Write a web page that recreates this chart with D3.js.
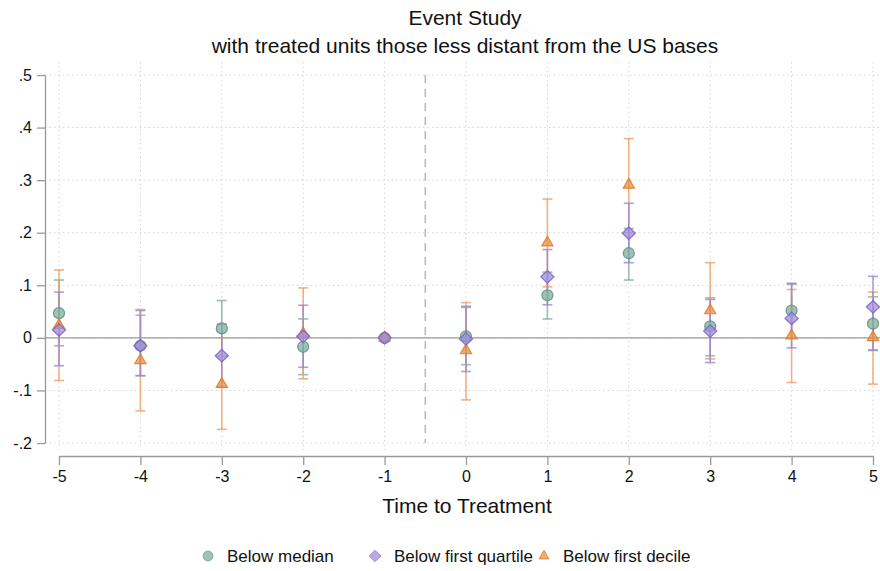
<!DOCTYPE html>
<html><head><meta charset="utf-8">
<script src="https://cdn.jsdelivr.net/npm/d3@7"></script>
<style>body{margin:0;background:#fff;font-family:"Liberation Sans",Arial,sans-serif;}</style>
</head><body><svg id="c" width="880" height="571"></svg>
<script>
const periods = [-5,-4,-3,-2,-1,0,1,2,3,4,5];
const xTickLabels = ["-5","-4","-3","-2","-1","0","1","2","3","4","5"];
const seriesNames = ["Below median","Below first quartile","Below first decile"];
const medianEst = [0.047,-0.015,0.018,-0.017,0,0.003,0.081,0.161,0.022,0.052,0.027];
const medianLo  = [-0.015,-0.072,-0.035,-0.070,0,-0.051,0.036,0.110,-0.034,0.000,-0.024];
const medianHi  = [0.110,0.043,0.071,0.036,0,0.058,0.125,0.208,0.076,0.104,0.078];
const quartEst = [0.015,-0.015,-0.034,0.003,0,-0.002,0.116,0.199,0.013,0.037,0.059];
const quartLo  = [-0.053,-0.072,-0.094,-0.056,0,-0.064,0.063,0.143,-0.047,-0.019,-0.023];
const quartHi  = [0.087,0.052,0.026,0.062,0,0.060,0.168,0.256,0.073,0.102,0.117];
const decEst = [0.024,-0.043,-0.088,0.008,0,-0.024,0.181,0.291,0.052,0.004,0.001];
const decLo  = [-0.081,-0.139,-0.174,-0.078,0,-0.118,0.097,0.200,-0.040,-0.085,-0.088];
const decHi  = [0.129,0.054,0.000,0.095,0,0.067,0.264,0.379,0.143,0.092,0.087];
const yTicks = [-0.2,-0.1,0,0.1,0.2,0.3,0.4,0.5];
const yTickLabels = ["-.2","-.1","0",".1",".2",".3",".4",".5"];

const svg = d3.select("#c");
const FONT = "Liberation Sans, Arial, sans-serif";
const x = d3.scaleLinear().domain([-5,5]).range([59,873]);
const y = d3.scaleLinear().domain([-0.2,0.5]).range([443,75]);
const plotL = 45, plotR = 880, plotT = 62, plotB = 450;

// grid
svg.append("g").selectAll("line").data(yTicks).join("line")
  .attr("x1",plotL).attr("x2",plotR).attr("y1",d=>y(d)).attr("y2",d=>y(d))
  .attr("stroke","#d4d4d4").attr("stroke-width",1).attr("stroke-dasharray","1.5,3");
svg.append("g").selectAll("line").data(periods).join("line")
  .attr("x1",d=>x(d)).attr("x2",d=>x(d)).attr("y1",plotT).attr("y2",plotB)
  .attr("stroke","#d4d4d4").attr("stroke-width",1).attr("stroke-dasharray","1.5,3");

// zero line
svg.append("line").attr("x1",plotL).attr("x2",plotR).attr("y1",y(0)).attr("y2",y(0))
  .attr("stroke","#9a9a9a").attr("stroke-width",1.2);
// treatment dashed line
svg.append("line").attr("x1",x(-0.5)).attr("x2",x(-0.5)).attr("y1",y(0.5)).attr("y2",y(-0.2))
  .attr("stroke","#b8b8b8").attr("stroke-width",1.5).attr("stroke-dasharray","8,6");

// y axis
const yAxis = d3.axisLeft(y).tickValues(yTicks).tickFormat((d,i)=>yTickLabels[i]).tickSize(8).tickSizeOuter(0).tickPadding(5);
const ga = svg.append("g").attr("transform",`translate(${plotL},0)`).call(yAxis);
ga.select(".domain").attr("stroke","#999").attr("stroke-width",1.3);
ga.selectAll(".tick line").attr("stroke","#999").attr("stroke-width",1.3);
ga.selectAll("text").attr("font-size",16).attr("fill","#111").attr("font-family",FONT);

// x axis
const xAxis = d3.axisBottom(x).tickValues(periods).tickFormat((d,i)=>xTickLabels[i]).tickSize(9).tickSizeOuter(0).tickPadding(6);
const gx = svg.append("g").attr("transform",`translate(0,456)`).call(xAxis);
gx.select(".domain").attr("stroke","#999").attr("stroke-width",1.3);
gx.selectAll(".tick line").attr("stroke","#999").attr("stroke-width",1.3);
gx.selectAll("text").attr("font-size",16).attr("fill","#111").attr("font-family",FONT);

// axis title
svg.append("text").attr("x",467).attr("y",513).attr("text-anchor","middle")
  .attr("font-size",21).attr("fill","#111").text("Time to Treatment");

// titles
svg.append("text").attr("x",465).attr("y",25).attr("text-anchor","middle").attr("font-size",21).attr("fill","#111").text("Event Study");
svg.append("text").attr("x",465).attr("y",53).attr("text-anchor","middle").attr("font-size",21).attr("fill","#111").text("with treated units those less distant from the US bases");

const diamond = {draw(ctx,size){const h=Math.sqrt(size/2);ctx.moveTo(0,-h*1.05);ctx.lineTo(h*1.1,0);ctx.lineTo(0,h*1.05);ctx.lineTo(-h*1.1,0);ctx.closePath();}};
const series = [
  {name:seriesNames[0], est:medianEst, lo:medianLo, hi:medianHi, color:"#5a9283", fill:"#7fae9f", line:"#80aea0", sym:d3.symbolCircle, size:95},
  {name:seriesNames[1], est:quartEst, lo:quartLo, hi:quartHi, color:"#7a5fc9", fill:"#a08ddb", line:"#9b86d6", sym:diamond, size:72},
  {name:seriesNames[2], est:decEst, lo:decLo, hi:decHi, color:"#e07a2c", fill:"#e9913f", line:"#eea06a", sym:d3.symbolTriangle, size:55}
];
const drawOrder = [0,2,1];

drawOrder.forEach(j=>{
  const s = series[j];
  const g = svg.append("g");
  const idx = periods.map((p,i)=>i).filter(i=>s.hi[i]!==s.lo[i]);
  g.selectAll("line.v").data(idx).join("line")
    .attr("x1",i=>x(periods[i])).attr("x2",i=>x(periods[i]))
    .attr("y1",i=>y(s.hi[i])).attr("y2",i=>y(s.lo[i]))
    .attr("stroke",s.line).attr("stroke-width",1.6).attr("opacity",0.8);
  ["hi","lo"].forEach(k=>{
    g.selectAll("line."+k).data(idx).join("line")
      .attr("x1",i=>x(periods[i])-5).attr("x2",i=>x(periods[i])+5)
      .attr("y1",i=>y(s[k][i])).attr("y2",i=>y(s[k][i]))
      .attr("stroke",s.line).attr("stroke-width",1.6).attr("opacity",0.8);
  });
});
drawOrder.forEach(j=>{
  const s = series[j];
  svg.append("g").selectAll("path").data(periods).join("path")
    .attr("d",d3.symbol().type(s.sym).size(s.size))
    .attr("transform",(p,i)=>`translate(${x(p)},${y(s.est[i])})`)
    .attr("fill",s.fill).attr("fill-opacity",0.75).attr("stroke",s.color).attr("stroke-opacity",0.85).attr("stroke-width",1.2);
});

// legend
const legendX = [208,375,544];
series.forEach((s,i)=>{
  svg.append("path").attr("d",d3.symbol().type(s.sym).size(s.size*0.8))
    .attr("transform",`translate(${legendX[i]},556)`)
    .attr("fill",s.fill).attr("fill-opacity",0.75).attr("stroke",s.fill).attr("stroke-width",1);
  svg.append("text").attr("x",legendX[i]+19).attr("y",562).attr("font-size",17).attr("fill","#111").text(s.name);
});
</script></body></html>
